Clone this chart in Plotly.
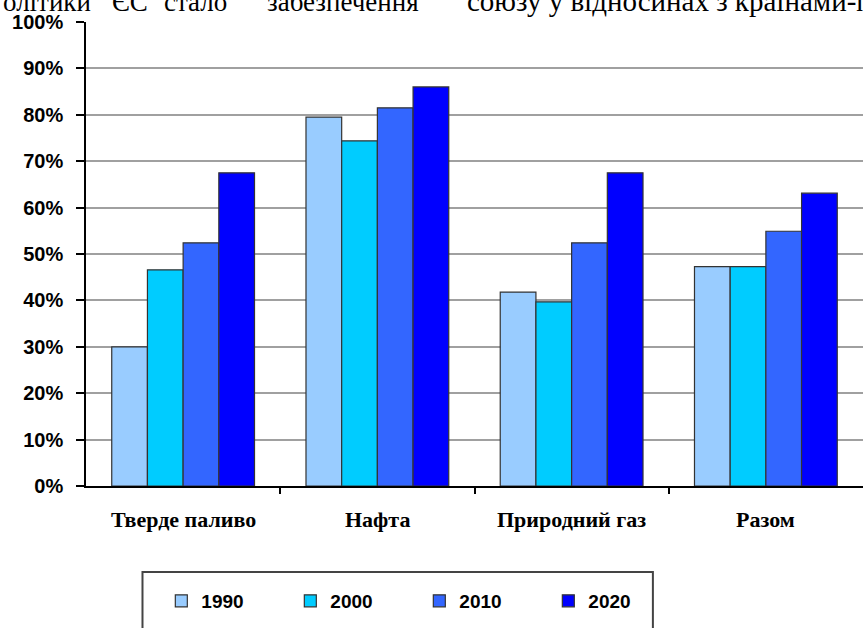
import plotly.graph_objects as go

categories = ["Тверде паливо", "Нафта", "Природний газ", "Разом"]
years = ["1990", "2000", "2010", "2020"]
v1990 = [0.30, 0.795, 0.418, 0.473]
v2000 = [0.466, 0.744, 0.397, 0.473]
v2010 = [0.524, 0.815, 0.524, 0.549]
v2020 = [0.675, 0.86, 0.675, 0.631]
series = [v1990, v2000, v2010, v2020]
colors = ["#99CCFF", "#00CCFF", "#3366FF", "#0000FF"]
yticks = [0, 0.1, 0.2, 0.3, 0.4, 0.5, 0.6, 0.7, 0.8, 0.9, 1.0]
top_words = [("олітики", 0), ("ЄС", 110), ("стало", 163), ("забезпечення", 267),
             ("союзу у відносинах з країнами-п", 468)]

W, H = 863, 628
L, R, T, B = 86, 870, 22, 486
pw, ph = R - L, B - T

def px(x):
    return (x - L) / pw

def py(y):
    return (B - y) / ph

fig = go.Figure()
for name, vals, col in zip(years, series, colors):
    fig.add_trace(go.Bar(
        x=list(range(len(categories))), y=vals, name=name,
        marker=dict(color=col, line=dict(color="#333333", width=1.2)),
    ))

fig.update_layout(
    width=W, height=H,
    margin=dict(l=L, r=0, t=T, b=H - B, pad=0),
    paper_bgcolor="white", plot_bgcolor="white",
    barmode="group", bargap=0.265, bargroupgap=0,
    showlegend=True,
    legend=dict(
        orientation="h", x=px(162), y=py(601), xanchor="left", yanchor="middle",
        font=dict(family="Liberation Sans", size=19, color="black", weight="bold"),
        entrywidth=84, entrywidthmode="pixels", borderwidth=0,
        bgcolor="rgba(0,0,0,0)", itemclick=False,
    ),
    xaxis=dict(
        type="linear", range=[-0.5, 3.5],
        tickvals=[0.5, 1.5, 2.5], ticks="outside", ticklen=6, tickcolor="black",
        tickwidth=1.5, showticklabels=False, showgrid=False, zeroline=False,
        showline=True, linecolor="black", linewidth=1.5,
    ),
    yaxis=dict(
        range=[0, 1.0], tickvals=yticks, tickformat=".0%",
        ticks="outside", ticklen=8, tickcolor="black", tickwidth=1.5,
        ticklabelstandoff=9,
        tickfont=dict(family="Liberation Sans", size=20, color="black", weight="bold"),
        showgrid=True, gridcolor="#A0A0A0", gridwidth=1.5, zeroline=False,
        showline=True, linecolor="black", linewidth=1.5,
    ),
)

# darker 20% line
fig.add_shape(type="line", xref="paper", yref="y", x0=0, x1=1, y0=0.2, y1=0.2,
              line=dict(color="#222222", width=1.5), layer="below")

# category labels
for i, c in enumerate(categories):
    fig.add_annotation(x=i, y=py(519), xref="x", yref="paper", text=c, showarrow=False,
                       xanchor="center", yanchor="middle",
                       font=dict(family="Liberation Serif", size=22, color="black", weight="bold"))

# legend box
fig.add_shape(type="rect", xref="paper", yref="paper", x0=px(143), x1=px(658),
              y0=py(572), y1=py(650), line=dict(color="#444444", width=2),
              fillcolor="rgba(0,0,0,0)")

# cut-off document text at the top
for k, (word, xpos) in enumerate(top_words):
    fig.add_annotation(x=px(xpos), y=py(19), xref="paper", yref="paper",
                       text=word, showarrow=False, xanchor="left", yanchor="bottom",
                       font=dict(family="Liberation Serif", size=29 if k == 4 else 27,
                                 color="black"))

fig.write_html("out.html", config={"displayModeBar": False},
               post_script="document.body.style.margin='0px';")
